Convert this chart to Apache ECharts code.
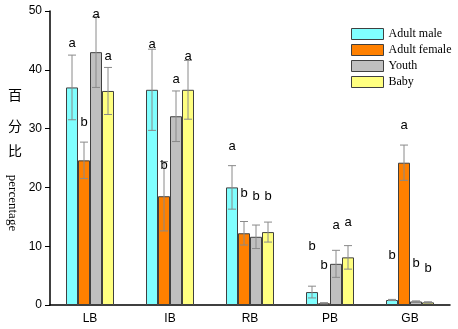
<!DOCTYPE html>
<html>
<head>
  <meta charset="utf-8" />
  <title>percentage chart</title>
  <script src="https://cdn.jsdelivr.net/npm/echarts@6/dist/echarts.min.js"></script>
  <style>
    html, body { margin: 0; padding: 0; background: #fff; }
    #main { width: 458px; height: 329px; }
  </style>
</head>
<body>
  <div id="main"></div>
  <script>
    var categories = ['LB', 'IB', 'RB', 'PB', 'GB'];
    var seriesNames = ['Adult male', 'Adult female', 'Youth', 'Baby'];
    var yTicks = [0, 10, 20, 30, 40, 50];

    // 均值
    var adultMale   = [37.0, 36.6, 20.0, 2.2, 0.85];
    var adultFemale = [24.6, 18.5, 12.2, 0.3, 24.2];
    var youth       = [43.0, 32.1, 11.6, 7.0, 0.6];
    var baby        = [36.4, 36.6, 12.4, 8.1, 0.45];

    // 误差
    var adultMaleErr   = [5.5, 6.9, 3.7, 1.0, 0.1];
    var adultFemaleErr = [3.1, 5.9, 2.0, 0.1, 3.0];
    var youthErr       = [6.0, 4.3, 2.0, 2.3, 0.1];
    var babyErr        = [4.0, 5.0, 1.7, 2.0, 0.1];

    // 显著性字母及其高度
    var adultMaleSig   = ['a', 'a', 'a', 'b', 'b'];
    var adultFemaleSig = ['b', 'b', 'b', 'b', 'a'];
    var youthSig       = ['a', 'a', 'b', 'a', 'b'];
    var babySig        = ['a', 'a', 'b', 'a', 'b'];
    var adultMaleSigY   = [44.5, 44.3, 27.0, 9.9, 8.5];
    var adultFemaleSigY = [31.1, 23.8, 18.9, 6.7, 30.6];
    var youthSigY       = [49.4, 38.3, 18.4, 13.5, 7.0];
    var babySigY        = [42.3, 42.3, 18.4, 14.0, 6.3];

    var values = [adultMale, adultFemale, youth, baby];
    var errs = [adultMaleErr, adultFemaleErr, youthErr, babyErr];
    var sigs = [adultMaleSig, adultFemaleSig, youthSig, babySig];
    var sigYs = [adultMaleSigY, adultFemaleSigY, youthSigY, babySigY];
    var colors = ['#80FFFF', '#FF8000', '#C0C0C0', '#FFFF80'];

    var nSeries = 4;
    var catGap = 0.4;

    function barX(api, c, s) {
      var band = api.size([1, 0])[0];
      var bw = band * (1 - catGap) / nSeries;
      return api.coord([c, 0])[0] + (s - (nSeries - 1) / 2) * bw;
    }

    function errRender(s) {
      return function (params, api) {
        var c = api.value(0), v = api.value(1), e = api.value(2);
        var x = barX(api, c, s);
        var top = api.coord([c, v + e])[1];
        var bot = api.coord([c, Math.max(v - e, 0)])[1];
        var hw = 4;
        var st = { stroke: '#8a8a8a', lineWidth: 1 };
        return {
          type: 'group',
          children: [
            { type: 'line', shape: { x1: x, y1: top, x2: x, y2: bot }, style: st },
            { type: 'line', shape: { x1: x - hw, y1: top, x2: x + hw, y2: top }, style: st },
            { type: 'line', shape: { x1: x - hw, y1: bot, x2: x + hw, y2: bot }, style: st }
          ]
        };
      };
    }

    function sigRender(s) {
      return function (params, api) {
        var c = api.value(0), h = api.value(1);
        var x = barX(api, c, s);
        var y = api.coord([c, h])[1];
        return {
          type: 'text',
          style: {
            x: x, y: y,
            text: sigs[s][params.dataIndex],
            align: 'center', verticalAlign: 'middle',
            fill: '#000',
            font: '13px "Liberation Sans", Arial, sans-serif'
          }
        };
      };
    }

    var series = [];
    for (var s = 0; s < nSeries; s++) {
      series.push({
        name: seriesNames[s],
        type: 'bar',
        data: values[s],
        barGap: '0%',
        barCategoryGap: (catGap * 100) + '%',
        itemStyle: { color: colors[s], borderColor: '#404040', borderWidth: 1 },
        z: 2
      });
    }
    for (var s = 0; s < nSeries; s++) {
      series.push({
        type: 'custom',
        renderItem: errRender(s),
        data: values[s].map(function (v, i) { return [i, v, errs[s][i]]; }),
        encode: { x: 0, y: 1 },
        z: 5,
        silent: true
      });
      series.push({
        type: 'custom',
        renderItem: sigRender(s),
        data: sigYs[s].map(function (h, i) { return [i, h]; }),
        encode: { x: 0, y: 1 },
        z: 6,
        silent: true
      });
    }

    var myChart = echarts.init(document.getElementById('main'));
    var option = {
      animation: false,
      backgroundColor: '#fff',
      grid: { left: 50, right: 8, top: 11, bottom: 24 },
      legend: {
        data: seriesNames,
        orient: 'vertical',
        left: 351,
        top: 27,
        padding: 0,
        itemWidth: 32,
        itemHeight: 11,
        itemGap: 2,
        icon: 'rect',
        itemStyle: { borderColor: '#404040', borderWidth: 1 },
        textStyle: { fontFamily: '"Liberation Serif", "Times New Roman", serif', fontSize: 12, color: '#000', lineHeight: 14 }
      },
      xAxis: {
        type: 'category',
        data: categories,
        axisLine: { lineStyle: { color: '#000', width: 1.5 } },
        axisTick: { alignWithLabel: true, length: 5, lineStyle: { color: '#000' } },
        axisLabel: { color: '#000', fontSize: 12, fontFamily: '"Liberation Sans", Arial, sans-serif', margin: 8 }
      },
      yAxis: {
        type: 'value',
        min: yTicks[0],
        max: yTicks[yTicks.length - 1],
        interval: 10,
        splitLine: { show: false },
        axisLine: { show: true, lineStyle: { color: '#000', width: 1.5 } },
        axisTick: { show: true, length: 5, lineStyle: { color: '#000' } },
        axisLabel: { color: '#000', fontSize: 12, fontFamily: '"Liberation Sans", Arial, sans-serif', margin: 8 }
      },
      graphic: [
        { type: 'text', left: 8, top: 88, style: { text: '百', font: '14px "Noto Sans CJK SC", sans-serif', fill: '#000' } },
        { type: 'text', left: 8, top: 119, style: { text: '分', font: '14px "Noto Sans CJK SC", sans-serif', fill: '#000' } },
        { type: 'text', left: 8, top: 144, style: { text: '比', font: '14px "Noto Sans CJK SC", sans-serif', fill: '#000' } },
        {
          type: 'text', x: 12.5, y: 203, rotation: -Math.PI / 2,
          style: { text: 'percentage', font: '13px "Liberation Serif", "Times New Roman", serif', fill: '#000', align: 'center', verticalAlign: 'middle' }
        }
      ],
      series: series
    };
    myChart.setOption(option);
  </script>
</body>
</html>
